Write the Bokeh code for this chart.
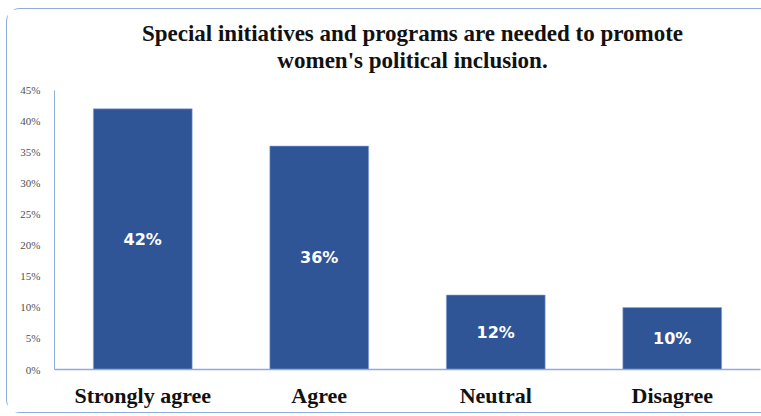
from bokeh.plotting import figure
from bokeh.models import ColumnDataSource, NumeralTickFormatter, FixedTicker, Range1d
from bokeh.core.properties import value
from bokeh.embed import file_html
from bokeh.resources import INLINE

categories = ["Strongly agree", "Agree", "Neutral", "Disagree"]
shares = [0.42, 0.36, 0.12, 0.10]
labels = ["42%", "36%", "12%", "10%"]
y_ticks = [0, 0.05, 0.10, 0.15, 0.20, 0.25, 0.30, 0.35, 0.40, 0.45]
title_lines = ["Special initiatives and programs are needed to promote",
               "women's political inclusion."]

src = ColumnDataSource(dict(cat=categories, val=shares,
                            mid=[v / 2 for v in shares], lab=labels))

# y range extends above 45% to leave room for the title inside the frame;
# the axis itself is bounded to 0-45%
p = figure(x_range=categories, y_range=Range1d(0, 0.58),
           width=755, height=405, output_backend="svg", toolbar_location=None,
           min_border_left=47, min_border_right=2, min_border_bottom=45, min_border_top=0)
p.margin = (8, 0, 0, 6)
p.styles = {"border": "1.5px solid #8FAADC", "border-right": "none",
            "border-radius": "14px 0 0 14px"}

title_src = ColumnDataSource(dict(x=[len(categories) / 2] * 2, y=[0.542, 0.498],
                                  t=title_lines))
p.text(x="x", y="y", text="t", source=title_src, x_offset=5,
       text_align="center", text_baseline="middle",
       text_font=value("Liberation Serif"), text_font_style="bold",
       text_font_size="23px", text_color="#111111")

p.vbar(x="cat", top="val", width=0.56, source=src, fill_color="#2F5597",
       line_color="#8FAADC", line_width=0.6)
p.text(x="cat", y="mid", text="lab", source=src, text_align="center",
       text_baseline="middle", text_color="white", text_font=value("DejaVu Sans"),
       text_font_style="bold", text_font_size="16px")

p.xgrid.grid_line_color = None
p.ygrid.grid_line_color = None
p.outline_line_color = None
p.background_fill_color = "white"
p.border_fill_color = "white"

p.yaxis.bounds = (0, 0.45)
p.yaxis.ticker = FixedTicker(ticks=y_ticks)
p.yaxis.formatter = NumeralTickFormatter(format="0%")
p.yaxis.major_label_text_font = "Liberation Serif"
p.yaxis.major_label_text_font_size = "11px"
p.yaxis.major_label_text_color = "#505050"
p.yaxis.axis_line_color = "#8FAADC"
p.yaxis.major_tick_line_color = None
p.yaxis.minor_tick_line_color = None
p.yaxis.major_label_standoff = 8

p.xaxis.axis_line_color = "#8FAADC"
p.xaxis.axis_line_width = 1.5
p.xaxis.major_tick_line_color = None
p.xaxis.major_label_text_font = "Liberation Serif"
p.xaxis.major_label_text_font_style = "bold"
p.xaxis.major_label_text_font_size = "22px"
p.xaxis.major_label_text_color = "#111111"
p.xaxis.major_label_standoff = 7
p.x_range.range_padding = 0

open("out.html", "w").write(file_html(p, INLINE))
